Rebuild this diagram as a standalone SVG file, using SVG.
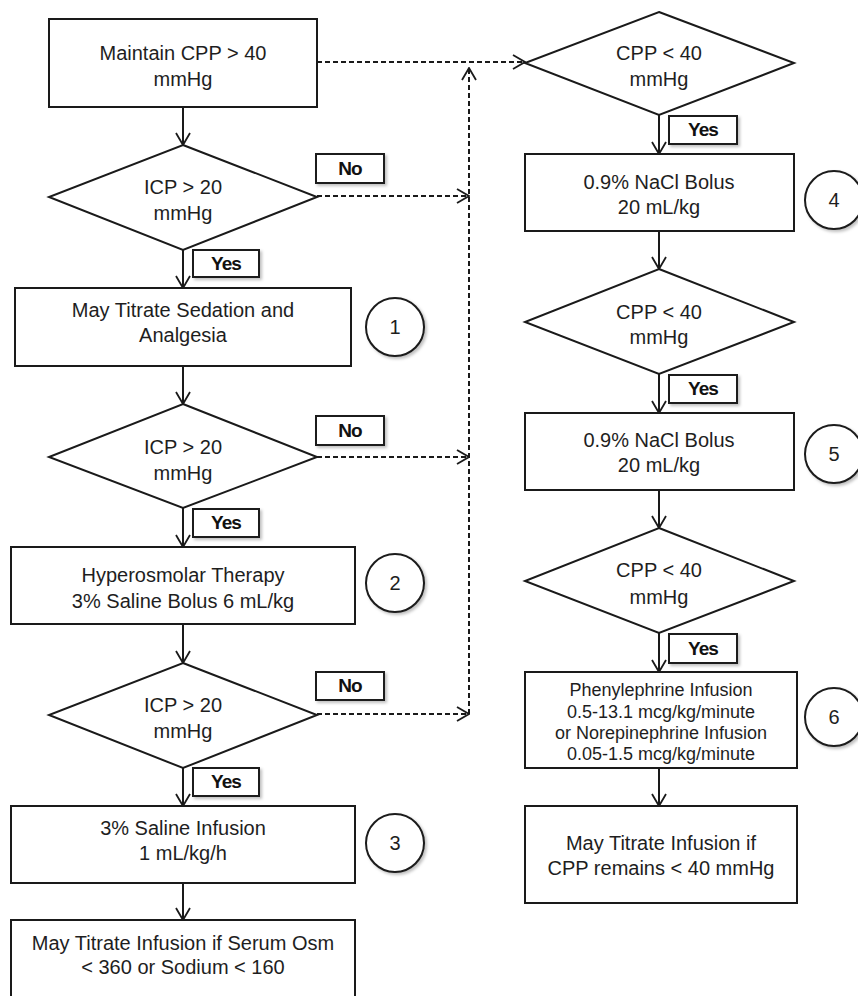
<svg xmlns="http://www.w3.org/2000/svg" width="858" height="996" viewBox="0 0 858 996">
<style>
.box{fill:#fff;stroke:#1a1a1a;stroke-width:2}
.lbl{fill:#fff;stroke:#1a1a1a;stroke-width:2}
.circ{fill:#fff;stroke:#1a1a1a;stroke-width:2}
.t{font-family:"Liberation Sans",Arial,sans-serif;font-size:20px;fill:#1e1e1e;text-anchor:middle}
.ts{font-family:"Liberation Sans",Arial,sans-serif;font-size:18px;fill:#1e1e1e;text-anchor:middle}
.tb{font-family:"Liberation Sans",Arial,sans-serif;font-size:19px;font-weight:bold;fill:#111;text-anchor:middle;letter-spacing:-1px}
.solid{fill:none;stroke:#1a1a1a;stroke-width:2;marker-end:url(#arr)}
.dash{fill:none;stroke:#1a1a1a;stroke-width:2;stroke-dasharray:5,3;marker-end:url(#arr)}
</style>
<defs>
<marker id="arr" viewBox="0 0 14 16" refX="13" refY="8" markerWidth="14" markerHeight="16" markerUnits="userSpaceOnUse" orient="auto">
<path d="M1,1 L13,8 L1,15" fill="none" stroke="#1a1a1a" stroke-width="1.8"/>
</marker>
<filter id="sh" x="-20%" y="-20%" width="150%" height="150%">
<feDropShadow dx="2" dy="2" stdDeviation="1.5" flood-color="#000" flood-opacity="0.25"/>
</filter>
</defs>

<g id="connectors">
<line class="solid" x1="183" y1="107" x2="183" y2="145"/>
<line class="solid" x1="183" y1="250" x2="183" y2="288"/>
<line class="solid" x1="183" y1="366" x2="183" y2="404"/>
<line class="solid" x1="183" y1="508" x2="183" y2="547"/>
<line class="solid" x1="183" y1="624" x2="183" y2="663"/>
<line class="solid" x1="183" y1="768" x2="183" y2="806"/>
<line class="solid" x1="183" y1="883" x2="183" y2="920"/>
<line class="solid" x1="659" y1="115" x2="659" y2="154"/>
<line class="solid" x1="659" y1="231" x2="659" y2="269"/>
<line class="solid" x1="659" y1="374" x2="659" y2="413"/>
<line class="solid" x1="659" y1="490" x2="659" y2="528"/>
<line class="solid" x1="659" y1="633" x2="659" y2="672"/>
<line class="solid" x1="659" y1="768" x2="659" y2="806"/>
<line class="dash" x1="317" y1="62" x2="525" y2="62"/>
<line class="dash" x1="469" y1="714" x2="469" y2="68"/>
<line class="dash" x1="317" y1="196" x2="469" y2="196"/>
<line class="dash" x1="317" y1="457" x2="469" y2="457"/>
<line class="dash" x1="317" y1="714" x2="469" y2="714"/>
</g>

<g id="n-maintain">
<rect class="box" x="49" y="19" width="268" height="88"/>
<text class="t" x="183" y="60">Maintain  CPP &gt; 40</text>
<text class="t" x="183" y="86">mmHg</text>
</g>

<g id="d-icp1">
<polygon class="box" points="183,145 317,197 183,250 49,197"/>
<text class="t" x="183" y="194">ICP &gt; 20</text>
<text class="t" x="183" y="220">mmHg</text>
</g>
<g id="no1"><rect class="lbl" filter="url(#sh)" x="316" y="154" width="68" height="29"/><text class="tb" x="350" y="175">No</text></g>
<g id="yes1"><rect class="lbl" filter="url(#sh)" x="193" y="250" width="66" height="27"/><text class="tb" x="226" y="270">Yes</text></g>

<g id="n-sedation">
<rect class="box" x="15" y="288" width="336" height="78"/>
<text class="t" x="183" y="317">May  Titrate Sedation and</text>
<text class="t" x="183" y="342">Analgesia</text>
</g>
<g id="c1"><circle class="circ" filter="url(#sh)" cx="395" cy="327" r="29"/><text class="t" x="395" y="334">1</text></g>

<g id="d-icp2">
<polygon class="box" points="183,404 317,457 183,508 49,457"/>
<text class="t" x="183" y="454">ICP &gt; 20</text>
<text class="t" x="183" y="480">mmHg</text>
</g>
<g id="no2"><rect class="lbl" filter="url(#sh)" x="316" y="416" width="68" height="29"/><text class="tb" x="350" y="437">No</text></g>
<g id="yes2"><rect class="lbl" filter="url(#sh)" x="193" y="509" width="66" height="28"/><text class="tb" x="226" y="529">Yes</text></g>

<g id="n-hyperosmolar">
<rect class="box" x="11" y="547" width="344" height="77"/>
<text class="t" x="183" y="582">Hyperosmolar Therapy</text>
<text class="t" x="183" y="608">3% Saline  Bolus 6 mL/kg</text>
</g>
<g id="c2"><circle class="circ" filter="url(#sh)" cx="395" cy="583" r="29"/><text class="t" x="395" y="590">2</text></g>

<g id="d-icp3">
<polygon class="box" points="183,663 317,715 183,768 49,715"/>
<text class="t" x="183" y="712">ICP &gt; 20</text>
<text class="t" x="183" y="738">mmHg</text>
</g>
<g id="no3"><rect class="lbl" filter="url(#sh)" x="316" y="672" width="68" height="28"/><text class="tb" x="350" y="692">No</text></g>
<g id="yes3"><rect class="lbl" filter="url(#sh)" x="193" y="768" width="66" height="28"/><text class="tb" x="226" y="788">Yes</text></g>

<g id="n-infusion">
<rect class="box" x="11" y="806" width="344" height="77"/>
<text class="t" x="183" y="835">3% Saline  Infusion</text>
<text class="t" x="183" y="860">1 mL/kg/h</text>
</g>
<g id="c3"><circle class="circ" filter="url(#sh)" cx="395" cy="843" r="29"/><text class="t" x="395" y="850">3</text></g>

<g id="n-titrate-osm">
<rect class="box" x="11" y="920" width="344" height="90"/>
<text class="t" x="183" y="950">May  Titrate Infusion if Serum Osm</text>
<text class="t" x="183" y="974">&lt; 360 or Sodium &lt; 160</text>
</g>

<g id="d-cpp1">
<polygon class="box" points="659,12 794,63 659,115 525,63"/>
<text class="t" x="659" y="60">CPP &lt; 40</text>
<text class="t" x="659" y="86">mmHg</text>
</g>
<g id="yes4"><rect class="lbl" filter="url(#sh)" x="669" y="116" width="68" height="28"/><text class="tb" x="703" y="136">Yes</text></g>

<g id="n-nacl1">
<rect class="box" x="525" y="154" width="269" height="77"/>
<text class="t" x="659" y="189">0.9% NaCl Bolus</text>
<text class="t" x="659" y="214">20 mL/kg</text>
</g>
<g id="c4"><circle class="circ" filter="url(#sh)" cx="834" cy="200" r="29"/><text class="t" x="834" y="207">4</text></g>

<g id="d-cpp2">
<polygon class="box" points="659,269 794,322 659,374 525,322"/>
<text class="t" x="659" y="319">CPP &lt; 40</text>
<text class="t" x="659" y="344">mmHg</text>
</g>
<g id="yes5"><rect class="lbl" filter="url(#sh)" x="669" y="375" width="68" height="28"/><text class="tb" x="703" y="395">Yes</text></g>

<g id="n-nacl2">
<rect class="box" x="525" y="413" width="269" height="77"/>
<text class="t" x="659" y="447">0.9% NaCl Bolus</text>
<text class="t" x="659" y="472">20 mL/kg</text>
</g>
<g id="c5"><circle class="circ" filter="url(#sh)" cx="834" cy="454" r="29"/><text class="t" x="834" y="461">5</text></g>

<g id="d-cpp3">
<polygon class="box" points="659,528 794,581 659,633 525,581"/>
<text class="t" x="659" y="577">CPP &lt; 40</text>
<text class="t" x="659" y="604">mmHg</text>
</g>
<g id="yes6"><rect class="lbl" filter="url(#sh)" x="669" y="634" width="68" height="29"/><text class="tb" x="703" y="655">Yes</text></g>

<g id="n-vasopressor">
<rect class="box" x="525" y="672" width="272" height="96"/>
<text class="ts" x="661" y="696">Phenylephrine  Infusion</text>
<text class="ts" x="661" y="718">0.5-13.1 mcg/kg/minute</text>
<text class="ts" x="661" y="739">or Norepinephrine  Infusion</text>
<text class="ts" x="661" y="760">0.05-1.5 mcg/kg/minute</text>
</g>
<g id="c6"><circle class="circ" filter="url(#sh)" cx="834" cy="717" r="29"/><text class="t" x="834" y="724">6</text></g>

<g id="n-titrate-cpp">
<rect class="box" x="525" y="806" width="272" height="97"/>
<text class="t" x="661" y="850">May  Titrate Infusion if</text>
<text class="t" x="661" y="875">CPP remains &lt; 40 mmHg</text>
</g>
</svg>
